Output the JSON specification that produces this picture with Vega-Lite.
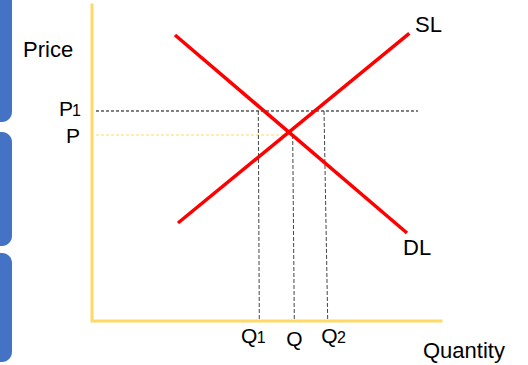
{
  "$schema": "https://vega.github.io/schema/vega-lite/v6.json",
  "width": 528,
  "height": 365,
  "autosize": "none",
  "padding": 0,
  "background": "white",
  "config": {"view": {"stroke": null}},
  "datasets": {
    "panels": [
      {"q": -32, "q2": -22.86, "p": 110, "p2": 63.0},
      {"q": -32, "q2": -22.86, "p": 59.81, "p2": 23.73},
      {"q": -32, "q2": -22.86, "p": 21.52, "p2": -12.97}
    ],
    "axes": [
      {"o": 1, "q": 0, "p": 100},
      {"o": 2, "q": 0, "p": 0},
      {"o": 3, "q": 99.7, "p": 0}
    ],
    "guides": [
      {"id": "P1", "kind": "black", "o": 1, "q": 1.14, "p": 66.46},
      {"id": "P1", "kind": "black", "o": 2, "q": 93.14, "p": 66.46},
      {"id": "P", "kind": "yellow", "o": 1, "q": 1.14, "p": 58.86},
      {"id": "P", "kind": "yellow", "o": 2, "q": 56.57, "p": 58.86},
      {"id": "Q1", "kind": "gray", "o": 1, "q": 47.51, "p": 66.46},
      {"id": "Q1", "kind": "gray", "o": 2, "q": 47.8, "p": 0.3},
      {"id": "Q", "kind": "gray", "o": 1, "q": 57.34, "p": 58.86},
      {"id": "Q", "kind": "gray", "o": 2, "q": 57.8, "p": 0.3},
      {"id": "Q2", "kind": "gray", "o": 1, "q": 66.29, "p": 66.46},
      {"id": "Q2", "kind": "gray", "o": 2, "q": 67.34, "p": 0.3}
    ],
    "curves": [
      {"id": "DL", "o": 1, "q": 23.71, "p": 90.51},
      {"id": "DL", "o": 2, "q": 90.0, "p": 27.85},
      {"id": "SL", "o": 1, "q": 24.57, "p": 31.01},
      {"id": "SL", "o": 2, "q": 90.66, "p": 91.04}
    ],
    "labels": [
      {"text": "Price", "kind": "big", "q": -19.71, "p": 83.54},
      {"text": "Quantity", "kind": "big", "q": 94.57, "p": -11.71},
      {"text": "SL", "kind": "big", "q": 92.29, "p": 91.46},
      {"text": "DL", "kind": "big", "q": 88.86, "p": 20.89},
      {"text": "P", "kind": "tick", "q": -9.43, "p": 64.72},
      {"text": "1", "kind": "sub", "q": -5.71, "p": 64.72},
      {"text": "P", "kind": "tick", "q": -7.43, "p": 56.33},
      {"text": "Q", "kind": "tick", "q": 42.6, "p": -6.96},
      {"text": "1", "kind": "sub", "q": 47.1, "p": -6.96},
      {"text": "Q", "kind": "tick", "q": 55.5, "p": -7.91},
      {"text": "Q", "kind": "tick", "q": 65.5, "p": -6.96},
      {"text": "2", "kind": "sub", "q": 70.0, "p": -6.96}
    ]
  },
  "encoding": {
    "x": {"field": "q", "type": "quantitative", "axis": null, "scale": {"domain": [-26.2857, 124.5714], "nice": false, "zero": false}},
    "y": {"field": "p", "type": "quantitative", "axis": null, "scale": {"domain": [-13.924, 101.582], "nice": false, "zero": false}}
  },
  "layer": [
    {
      "data": {"name": "panels"},
      "mark": {"type": "rect", "color": "#4472C4", "cornerRadius": 10},
      "encoding": {"x2": {"field": "q2"}, "y2": {"field": "p2"}}
    },
    {
      "data": {"name": "axes"},
      "mark": {"type": "line", "color": "#FFD966", "strokeWidth": 3, "strokeCap": "square"},
      "encoding": {"order": {"field": "o", "type": "quantitative"}}
    },
    {
      "data": {"name": "guides"},
      "transform": [{"filter": "datum.kind === 'black'"}],
      "mark": {"type": "line", "color": "#000000", "strokeWidth": 1, "strokeDash": [3, 2]},
      "encoding": {"detail": {"field": "id"}, "order": {"field": "o", "type": "quantitative"}}
    },
    {
      "data": {"name": "guides"},
      "transform": [{"filter": "datum.kind === 'yellow'"}],
      "mark": {"type": "line", "color": "#FFD966", "strokeWidth": 1, "strokeDash": [3, 2]},
      "encoding": {"detail": {"field": "id"}, "order": {"field": "o", "type": "quantitative"}}
    },
    {
      "data": {"name": "guides"},
      "transform": [{"filter": "datum.kind === 'gray'"}],
      "mark": {"type": "line", "color": "#444444", "strokeWidth": 1, "strokeDash": [4, 2]},
      "encoding": {"detail": {"field": "id"}, "order": {"field": "o", "type": "quantitative"}}
    },
    {
      "data": {"name": "curves"},
      "mark": {"type": "line", "color": "#FF0000", "strokeWidth": 3.5},
      "encoding": {"detail": {"field": "id"}, "order": {"field": "o", "type": "quantitative"}}
    },
    {
      "data": {"name": "labels"},
      "transform": [{"filter": "datum.kind === 'big'"}],
      "mark": {"type": "text", "align": "left", "baseline": "alphabetic", "font": "Liberation Sans", "fontSize": 22, "color": "#000000"},
      "encoding": {"text": {"field": "text"}}
    },
    {
      "data": {"name": "labels"},
      "transform": [{"filter": "datum.kind === 'tick'"}],
      "mark": {"type": "text", "align": "left", "baseline": "alphabetic", "font": "Liberation Sans", "fontSize": 21, "color": "#000000"},
      "encoding": {"text": {"field": "text"}}
    },
    {
      "data": {"name": "labels"},
      "transform": [{"filter": "datum.kind === 'sub'"}],
      "mark": {"type": "text", "align": "left", "baseline": "alphabetic", "font": "Liberation Sans", "fontSize": 16, "color": "#000000"},
      "encoding": {"text": {"field": "text"}}
    }
  ]
}
